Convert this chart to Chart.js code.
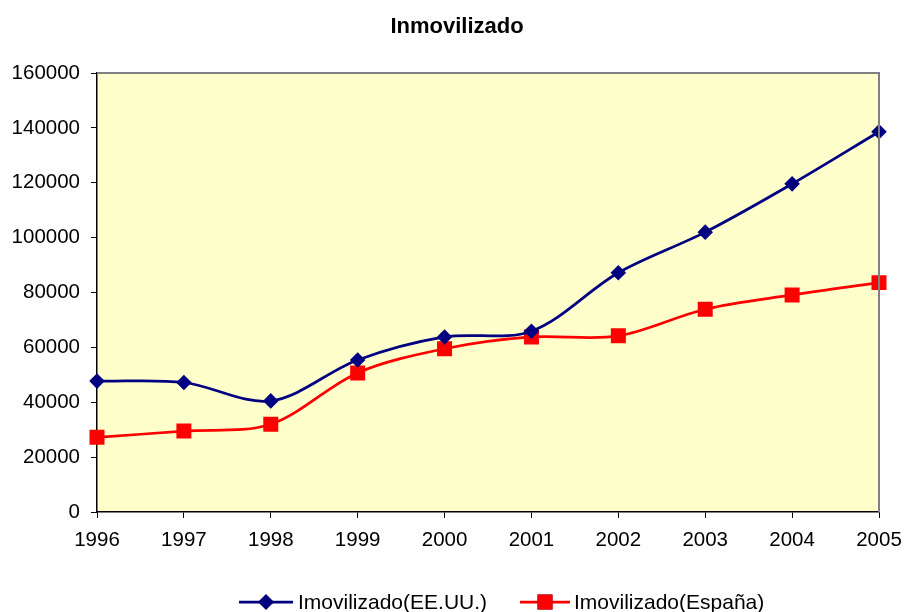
<!DOCTYPE html>
<html>
<head>
<meta charset="utf-8">
<script src="https://cdn.jsdelivr.net/npm/chart.js@4.4.1/dist/chart.umd.min.js"></script>
<style>
  html, body { margin: 0; padding: 0; background: #ffffff; }
  #wrap { width: 904px; height: 612px; }
</style>
</head>
<body>
<div id="wrap"><canvas id="c" width="904" height="612"></canvas></div>
<script>
const years = ['1996', '1997', '1998', '1999', '2000', '2001', '2002', '2003', '2004', '2005'];
const usaValues = [47700, 47200, 40500, 55400, 63800, 65900, 87200, 102000, 119600, 138600];
const spainValues = [27200, 29500, 32000, 50700, 59500, 63800, 64200, 73900, 79100, 83600];
const yTicks = [0, 20000, 40000, 60000, 80000, 100000, 120000, 140000, 160000];
const seriesNames = ['Imovilizado(EE.UU.)', 'Imovilizado(España)'];
const chartTitle = 'Inmovilizado';

const FONT = 'Arial, "Liberation Sans", sans-serif';

// Title and legend drawn on the chart canvas (positions as in the reference)
const decor = {
  id: 'decor',
  beforeDraw(chart) {
    const a = chart.chartArea, ctx = chart.ctx;
    ctx.save();
    ctx.fillStyle = '#FFFFCC';
    ctx.fillRect(a.left, a.top, a.right - a.left, a.bottom - a.top);
    ctx.restore();
  },
  afterDatasetsDraw(chart) {
    const a = chart.chartArea, ctx = chart.ctx;
    ctx.save();
    ctx.strokeStyle = '#808080';
    ctx.lineWidth = 2;
    ctx.beginPath();
    ctx.moveTo(a.left, a.top);
    ctx.lineTo(a.right, a.top);
    ctx.lineTo(a.right, a.bottom);
    ctx.stroke();
    ctx.restore();
  },
  afterDraw(chart) {
    const ctx = chart.ctx;
    ctx.save();
    // title
    ctx.fillStyle = '#000';
    ctx.font = 'bold 22px ' + FONT;
    ctx.textAlign = 'center';
    ctx.textBaseline = 'middle';
    ctx.fillText(chartTitle, 457, 27);
    // legend
    const items = [
      { x0: 239, x1: 293, mx: 266, tx: 298 },
      { x0: 520, x1: 570, mx: 545, tx: 574 }
    ];
    const ly = 602;
    chart.data.datasets.forEach((ds, i) => {
      const it = items[i];
      ctx.strokeStyle = ds.borderColor;
      ctx.lineWidth = ds.borderWidth;
      ctx.beginPath();
      ctx.moveTo(it.x0, ly);
      ctx.lineTo(it.x1, ly);
      ctx.stroke();
      Chart.helpers.drawPoint(ctx, {
        pointStyle: ds.pointStyle,
        radius: ds.pointRadius,
        rotation: 0,
        borderWidth: 0
      }, it.mx, ly);
      ctx.fillStyle = ds.backgroundColor;
      ctx.fill();
      ctx.fillStyle = '#000';
      ctx.font = '21px ' + FONT;
      ctx.textAlign = 'left';
      ctx.textBaseline = 'middle';
      ctx.fillText(ds.label, it.tx, ly + 1);
    });
    ctx.restore();
  }
};

new Chart(document.getElementById('c'), {
  type: 'line',
  data: {
    labels: years,
    datasets: [
      {
        label: seriesNames[0],
        data: usaValues,
        borderColor: '#000080',
        backgroundColor: '#000080',
        borderWidth: 2.75,
        pointStyle: 'rectRot',
        pointRadius: 7.8,
        pointHoverRadius: 7.8,
        pointBorderWidth: 0,
        tension: 0.33,
        fill: false
      },
      {
        label: seriesNames[1],
        data: spainValues,
        borderColor: '#FF0000',
        backgroundColor: '#FF0000',
        borderWidth: 2.75,
        pointStyle: 'rect',
        pointRadius: 10.6,
        pointHoverRadius: 10.6,
        pointBorderWidth: 0,
        tension: 0.33,
        fill: false
      }
    ]
  },
  options: {
    responsive: false,
    animation: false,
    events: [],
    layout: { padding: { left: 0, right: 25, top: 73, bottom: 0 } },
    plugins: {
      title: { display: false },
      legend: { display: false },
      tooltip: { enabled: false }
    },
    scales: {
      x: {
        type: 'category',
        offset: false,
        grid: { display: true, drawOnChartArea: false, drawTicks: true, tickLength: 6, color: '#000', lineWidth: 1 },
        border: { display: true, color: '#000', width: 1.5 },
        ticks: { color: '#000', font: { family: FONT, size: 20.5 }, padding: 10, maxRotation: 0, autoSkip: false },
        afterFit(scale) { scale.height = 100; scale.paddingLeft = 0; scale.paddingRight = 0; }
      },
      y: {
        min: 0,
        max: 160000,
        afterBuildTicks(scale) { scale.ticks = yTicks.map(v => ({ value: v })); },
        grid: { display: true, drawOnChartArea: false, drawTicks: true, tickLength: 6, color: '#000', lineWidth: 1 },
        border: { display: true, color: '#000', width: 1.5 },
        ticks: { color: '#000', font: { family: FONT, size: 20.5 }, padding: 11, callback: (v) => String(v) },
        afterFit(scale) { scale.width = 97; scale.paddingTop = 0; scale.paddingBottom = 0; }
      }
    }
  },
  plugins: [decor]
});
</script>
</body>
</html>
